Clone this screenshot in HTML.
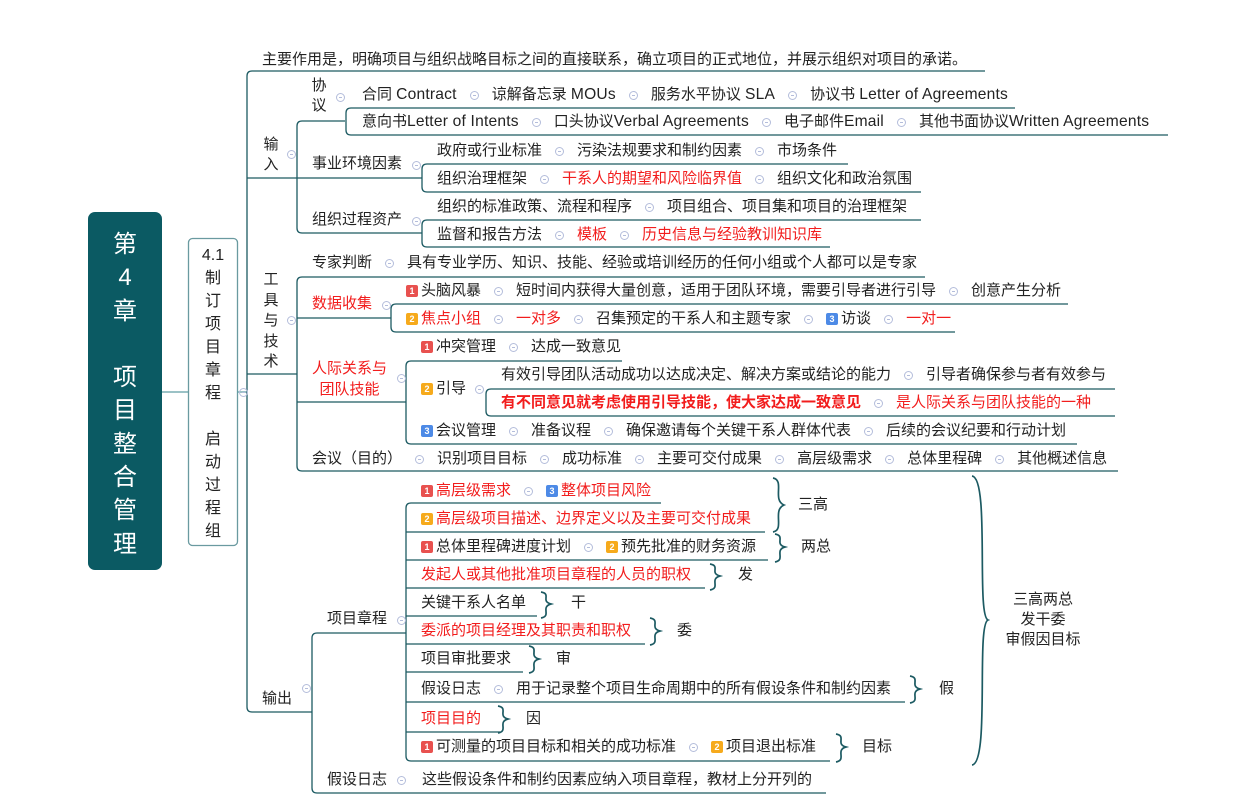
<!DOCTYPE html>
<html><head><meta charset="utf-8">
<style>
body{margin:0;width:1237px;height:812px;background:#fff;position:relative;overflow:hidden;font-family:"Liberation Sans","Noto Sans CJK SC",sans-serif;color:#222}
.r{position:absolute;white-space:nowrap;font-size:15px;line-height:18px;display:flex;align-items:center}
.red{color:#f21d1d}
.l{font-size:15.6px;letter-spacing:0.2px}
.s{display:inline-block;width:7px;height:7px;border:1px solid #b4bddb;border-radius:50%;margin:0 13px;position:relative}
.s:after{content:"";position:absolute;left:2px;right:2px;top:3px;height:1px;background:#b4bddb}
.c{position:absolute;width:7px;height:7px;border:1px solid #b4bddb;border-radius:50%}
.c:after{content:"";position:absolute;left:2px;right:2px;top:3px;height:1px;background:#b4bddb}
.b{display:inline-block;width:12px;height:12px;border-radius:2px;color:#fff;font-size:9px;line-height:12px;text-align:center;margin-right:3px;font-weight:bold}
.b1{background:#e8514f}.b2{background:#f6aa1c}.b3{background:#4d8ae6}
.v{position:absolute;font-size:15px;line-height:20px;text-align:center;width:18px}
</style></head><body>
<svg width="1237" height="812" style="position:absolute;left:0;top:0" fill="none" stroke="#1c5a62" stroke-width="1.3">
<rect x="88" y="212" width="74" height="358" rx="7" fill="#0b5a63" stroke="none"/>
<rect x="188.5" y="238.5" width="49" height="307" rx="4" fill="#fff" stroke="#6a9aa0"/>
<path d="M162 392H188M237 392H247" stroke="#5f9ea3"/>
<path d="M985 71H252Q247 71 247 76V707Q247 712 252 712H312M247 178H422M247 374H297"/>
<path d="M345 121H302Q297 121 297 126V228Q297 233 302 233H422"/>
<path d="M1015 108H351Q346 108 346 113V130Q346 135 351 135H1168"/>
<path d="M848 164H427Q422 164 422 169V187Q422 192 427 192H921"/>
<path d="M921 220H427Q422 220 422 225V242Q422 247 427 247H830"/>
<path d="M925 277H302Q297 277 297 282V466Q297 471 302 471H1118M297 318H391M297 402H406"/>
<path d="M1068 304H396Q391 304 391 309V327Q391 332 396 332H955"/>
<path d="M622 361H411Q406 361 406 366V439Q406 444 411 444H1077"/>
<path d="M1115 389H491Q486 389 486 394V411Q486 416 491 416H1115"/>
<path d="M406 633H317Q312 633 312 638V788Q312 793 317 793H826"/>
<path d="M661 503H411Q406 503 406 508V756Q406 761 411 761H830M406 532H765M406 560H768M406 588H705M406 616H537M406 644H645M406 672H523M406 702H905M406 732H500"/>
<g stroke="#1c5a62" stroke-width="1.7">
<path d="M773 478C785 480 772 500 784 505C772 510 785 530 773 532"/>
<path d="M775 534C786 536 774 544 785 547C774 550 786 560 775 562"/>
<path d="M710 564C721 566 709 573 720 576C709 579 721 588 710 590"/>
<path d="M541 592C552 594 540 601 551 604C540 607 552 616 541 618"/>
<path d="M650 618C661 620 649 628 660 631C649 634 661 643 650 645"/>
<path d="M529 646C540 648 528 656 539 659C528 662 540 671 529 673"/>
<path d="M910 676C921 678 909 686 920 689C909 692 921 701 910 703"/>
<path d="M498 706C509 708 497 716 508 719C497 722 509 731 498 733"/>
<path d="M836 734C847 736 835 744 846 747C835 750 847 760 836 762"/>
<path d="M972 476C990 478 976 615 988 620C976 625 990 763 972 765"/>
</g>
</svg>

<div class="v" style="left:113px;top:228px;width:24px;font-size:24px;line-height:33.3px;color:#fff">第<br>4<br>章<br>&nbsp;<br>项<br>目<br>整<br>合<br>管<br>理</div>
<div class="v" style="left:196px;top:244px;width:34px;font-size:16px;line-height:23px">4.1<br>制<br>订<br>项<br>目<br>章<br>程<br>&nbsp;<br>启<br>动<br>过<br>程<br>组</div>
<div class="c" style="left:239px;top:388px"></div>

<div class="r" style="left:262px;top:51px">主要作用是，明确项目与组织战略目标之间的直接联系，确立项目的正式地位，并展示组织对项目的承诺。</div>

<div class="v" style="left:262px;top:135px">输<br>入</div>
<div class="c" style="left:287px;top:150px"></div>
<div class="v" style="left:310px;top:76px">协<br>议</div>
<div class="c" style="left:336px;top:93px"></div>
<div class="r" style="left:362px;top:86px">合同&nbsp;<span class="l">Contract</span><span class="s"></span>谅解备忘录&nbsp;<span class="l">MOUs</span><span class="s"></span>服务水平协议&nbsp;<span class="l">SLA</span><span class="s"></span>协议书&nbsp;<span class="l">Letter of Agreements</span></div>
<div class="r" style="left:362px;top:113px">意向书<span class="l">Letter of Intents</span><span class="s"></span>口头协议<span class="l">Verbal Agreements</span><span class="s"></span>电子邮件<span class="l">Email</span><span class="s"></span>其他书面协议<span class="l">Written Agreements</span></div>
<div class="r" style="left:312px;top:155px">事业环境因素</div>
<div class="c" style="left:412px;top:161px"></div>
<div class="r" style="left:437px;top:142px">政府或行业标准<span class="s"></span>污染法规要求和制约因素<span class="s"></span>市场条件</div>
<div class="r" style="left:437px;top:170px">组织治理框架<span class="s"></span><span class="red">干系人的期望和风险临界值</span><span class="s"></span>组织文化和政治氛围</div>
<div class="r" style="left:312px;top:211px">组织过程资产</div>
<div class="c" style="left:412px;top:217px"></div>
<div class="r" style="left:437px;top:198px">组织的标准政策、流程和程序<span class="s"></span>项目组合、项目集和项目的治理框架</div>
<div class="r" style="left:437px;top:226px">监督和报告方法<span class="s"></span><span class="red">模板</span><span class="s"></span><span class="red">历史信息与经验教训知识库</span></div>

<div class="v" style="left:262px;top:270px;line-height:20.5px">工<br>具<br>与<br>技<br>术</div>
<div class="c" style="left:287px;top:316px"></div>
<div class="r" style="left:312px;top:254px">专家判断<span class="s"></span>具有专业学历、知识、技能、经验或培训经历的任何小组或个人都可以是专家</div>
<div class="r red" style="left:312px;top:295px">数据收集</div>
<div class="c" style="left:382px;top:301px"></div>
<div class="r" style="left:406px;top:282px"><span class="b b1">1</span>头脑风暴<span class="s"></span>短时间内获得大量创意，适用于团队环境，需要引导者进行引导<span class="s"></span>创意产生分析</div>
<div class="r" style="left:406px;top:310px"><span class="b b2">2</span><span class="red">焦点小组</span><span class="s"></span><span class="red">一对多</span><span class="s"></span>召集预定的干系人和主题专家<span class="s"></span><span class="b b3">3</span>访谈<span class="s"></span><span class="red">一对一</span></div>
<div class="r red" style="left:312px;top:358px;display:block;text-align:center;line-height:21px">人际关系与<br>团队技能</div>
<div class="c" style="left:397px;top:374px"></div>
<div class="r" style="left:421px;top:338px"><span class="b b1">1</span>冲突管理<span class="s"></span>达成一致意见</div>
<div class="r" style="left:421px;top:380px"><span class="b b2">2</span>引导</div>
<div class="c" style="left:475px;top:385px"></div>
<div class="r" style="left:501px;top:366px">有效引导团队活动成功以达成决定、解决方案或结论的能力<span class="s"></span>引导者确保参与者有效参与</div>
<div class="r" style="left:501px;top:394px"><b class="red">有不同意见就考虑使用引导技能，使大家达成一致意见</b><span class="s"></span><span class="red">是人际关系与团队技能的一种</span></div>
<div class="r" style="left:421px;top:422px"><span class="b b3">3</span>会议管理<span class="s"></span>准备议程<span class="s"></span>确保邀请每个关键干系人群体代表<span class="s"></span>后续的会议纪要和行动计划</div>
<div class="r" style="left:312px;top:450px">会议（目的）<span class="s"></span>识别项目目标<span class="s"></span>成功标准<span class="s"></span>主要可交付成果<span class="s"></span>高层级需求<span class="s"></span>总体里程碑<span class="s"></span>其他概述信息</div>

<div class="r" style="left:262px;top:690px">输出</div>
<div class="c" style="left:302px;top:684px"></div>
<div class="r" style="left:327px;top:610px">项目章程</div>
<div class="c" style="left:397px;top:616px"></div>
<div class="r" style="left:327px;top:771px">假设日志</div>
<div class="c" style="left:397px;top:776px"></div>
<div class="r" style="left:422px;top:771px">这些假设条件和制约因素应纳入项目章程，教材上分开列的</div>

<div class="r" style="left:421px;top:482px"><span class="b b1">1</span><span class="red">高层级需求</span><span class="s"></span><span class="b b3">3</span><span class="red">整体项目风险</span></div>
<div class="r" style="left:421px;top:510px"><span class="b b2">2</span><span class="red">高层级项目描述、边界定义以及主要可交付成果</span></div>
<div class="r" style="left:421px;top:538px"><span class="b b1">1</span>总体里程碑进度计划<span class="s"></span><span class="b b2">2</span>预先批准的财务资源</div>
<div class="r red" style="left:421px;top:566px">发起人或其他批准项目章程的人员的职权</div>
<div class="r" style="left:421px;top:594px">关键干系人名单</div>
<div class="r red" style="left:421px;top:622px">委派的项目经理及其职责和职权</div>
<div class="r" style="left:421px;top:650px">项目审批要求</div>
<div class="r" style="left:421px;top:680px">假设日志<span class="s"></span>用于记录整个项目生命周期中的所有假设条件和制约因素</div>
<div class="r red" style="left:421px;top:710px">项目目的</div>
<div class="r" style="left:421px;top:738px"><span class="b b1">1</span>可测量的项目目标和相关的成功标准<span class="s"></span><span class="b b2">2</span>项目退出标准</div>

<div class="r" style="left:798px;top:496px">三高</div>
<div class="r" style="left:801px;top:538px">两总</div>
<div class="r" style="left:738px;top:566px">发</div>
<div class="r" style="left:571px;top:594px">干</div>
<div class="r" style="left:677px;top:622px">委</div>
<div class="r" style="left:556px;top:650px">审</div>
<div class="r" style="left:939px;top:680px">假</div>
<div class="r" style="left:526px;top:710px">因</div>
<div class="r" style="left:862px;top:738px">目标</div>
<div class="r" style="left:1000px;top:590px;width:86px;display:block;text-align:center;line-height:20px">三高两总<br>发干委<br>审假因目标</div>
</body></html>
